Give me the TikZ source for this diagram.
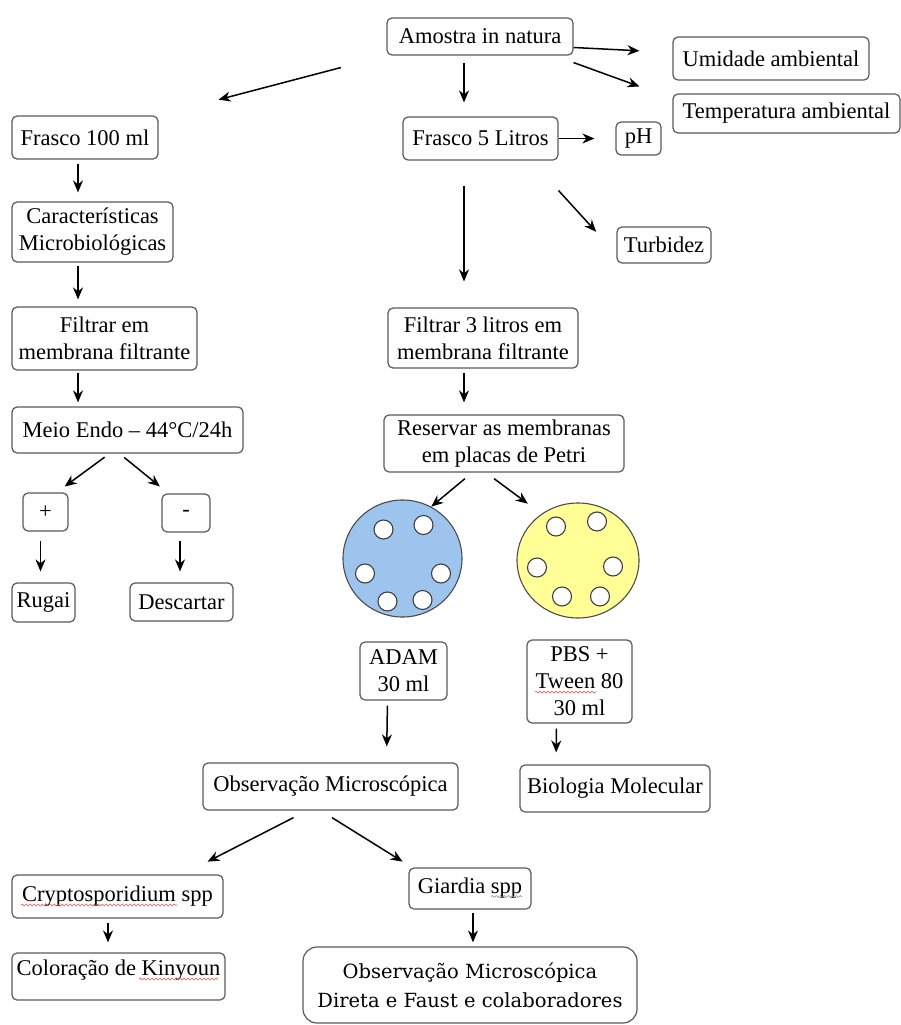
\documentclass[tikz,border=0pt]{standalone}
\usepackage{fontspec}
\setmainfont{Liberation Serif}
\newfontfamily\wideserif{DejaVu Serif}
\usetikzlibrary{arrows.meta,shapes.geometric,decorations.pathmorphing}

\definecolor{placaazul}{RGB}{157,196,236}
\definecolor{placaamarela}{RGB}{255,255,150}
\definecolor{borda}{RGB}{90,90,90}

\tikzset{
  caixa/.style={draw=borda,line width=1.2pt,rounded corners=5pt,align=center,inner sep=0pt,fill=white,font=\fontsize{22.5}{27}\selectfont},
  seta/.style={line width=1.5pt,-{Stealth[length=12pt,width=10pt]}},
  placa/.style={ellipse,draw=black!70,line width=1.1pt,inner sep=0pt},
  furo/.style={draw=black!75,line width=1.1pt,fill=white},
  onda/.style={draw=red!70,line width=0.6pt,decorate,decoration={snake,amplitude=0.9pt,segment length=4pt}},
}

\begin{document}
\begin{tikzpicture}[x=1pt,y=-1pt]
  \useasboundingbox (0,0) rectangle (901,1025);

  \node[caixa,minimum width=186pt,minimum height=37pt] (amostra) at (480,36.5) {Amostra in natura};
  \node[caixa,minimum width=196pt,minimum height=43pt] (umidade) at (771,58.5) {Umidade ambiental};
  \node[caixa,minimum width=227pt,minimum height=39pt] (temp) at (786.5,113.5) {Temperatura ambiental};
  \node[caixa,minimum width=155pt,minimum height=43pt] (f5) at (480.5,138.5) {Frasco 5 Litros};
  \node[caixa,minimum width=45pt,minimum height=33pt] (ph) at (638.5,138.5) {pH};
  \node[caixa,minimum width=94pt,minimum height=36pt] (turb) at (664,245) {Turbidez};

  \node[caixa,minimum width=146pt,minimum height=43pt] (f100) at (85,137.5) {Frasco 100 ml};
  \node[caixa,minimum width=161pt,minimum height=60pt] (carac) at (92.5,232) {Características\\Microbiológicas};
  \node[caixa,minimum width=185pt,minimum height=63pt] (filtrar) at (104.5,338.5) {Filtrar em\\membrana filtrante};
  \node[caixa,minimum width=231pt,minimum height=46pt] (meio) at (127.5,430) {Meio Endo -- 44°C/24h};
  \node[caixa,minimum width=45pt,minimum height=38pt] (pos) at (45.5,512) {+};
  \node[caixa,minimum width=48pt,minimum height=38pt] (neg) at (186,513) {-};
  \node[caixa,minimum width=63pt,minimum height=39pt] (rugai) at (43.5,602.5) {Rugai};
  \node[caixa,minimum width=103pt,minimum height=38pt] (descartar) at (181.5,602) {Descartar};

  \node[caixa,minimum width=190pt,minimum height=60pt] (filtrar3) at (483,338) {Filtrar 3 litros em\\membrana filtrante};
  \node[caixa,minimum width=240pt,minimum height=57pt] (reservar) at (504,443.5) {Reservar as membranas\\em placas de Petri};
  \node[placa,fill=placaazul,minimum width=119pt,minimum height=117pt] (adamplaca) at (402.5,558.5) {};
  \node[placa,fill=placaamarela,minimum width=122pt,minimum height=115pt] (pbsplaca) at (578,560.5) {};
  \begin{scope}[shift={(adamplaca.center)}]
    \foreach \fx/\fy in {-19/-29,21/-33.5,-37.5/15,38.5/15,-15/43,20/41.5}
      \draw[furo] (\fx,\fy) circle[radius=9.5pt];
  \end{scope}
  \begin{scope}[shift={(pbsplaca.center)}]
    \foreach \fx/\fy in {-22/-34,19/-39,-41/7,35/6,-16/36,22/36}
      \draw[furo] (\fx,\fy) circle[radius=9.5pt];
  \end{scope}
  \node[caixa,minimum width=87pt,minimum height=58pt] (adam) at (403.5,671) {ADAM\\30 ml};
  \node[caixa,minimum width=105pt,minimum height=83pt] (pbs) at (579.5,681.5) {PBS +\\Tween 80\\30 ml};
  \node[caixa,minimum width=255pt,minimum height=47pt] (obs) at (330.5,786.5) {Observação Microscópica};
  \node[caixa,minimum width=190pt,minimum height=47pt] (bio) at (615,788.5) {Biologia Molecular};
  \node[caixa,minimum width=211pt,minimum height=43pt] (crypto) at (117.5,896.5) {Cryptosporidium spp};
  \node[caixa,minimum width=122pt,minimum height=41pt] (giardia) at (470,888.5) {Giardia spp};
  \node[caixa,minimum width=213pt,minimum height=47pt,text depth=17pt] (kinyoun) at (118.5,976.5) {Coloração de Kinyoun};
  \node[caixa,rounded corners=14pt,minimum width=334pt,minimum height=76pt,font=\wideserif\fontsize{19.5}{29}\selectfont] (direta) at (470,985) {Observação Microscópica\\Direta e Faust e colaboradores};

  \draw[onda] ([xshift=-96.5pt,yshift=-8.5pt]crypto.center) -- ++(156,0);
  \draw[onda] ([xshift=20.5pt,yshift=-2.5pt]kinyoun.center) -- ++(79,0);
  \draw[onda] ([xshift=-44.7pt,yshift=-10.5pt]pbs.center) -- ++(61,0);
  \draw[onda,draw=black!45] ([xshift=21pt,yshift=-8pt]giardia.center) -- ++(31,0);

  \coordinate (colesq) at (78,0);
  \coordinate (coldir) at (464,0);

  \draw[seta,shorten <=47pt,shorten >=62pt] (amostra.south west) -- (f100.north east);
  \draw[seta,shorten >=33pt] ([yshift=-11pt]amostra.east) -- ([yshift=6pt]umidade.west);
  \draw[seta,shorten >=35pt] ([yshift=-7pt]amostra.south east) -- ([yshift=-5pt]temp.north west);
  \draw[seta,shorten <=7pt,shorten >=14pt] (amostra.south -| coldir) -- (f5.north -| coldir);
  \draw[seta,shorten >=21pt] (f5) -- (ph);
  \draw[seta,shorten >=30pt] ([yshift=-30pt]f5.south east) -- ([yshift=-9pt]turb.west);
  \draw[seta,shorten <=25pt,shorten >=26pt] (f5.south -| coldir) -- (filtrar3.north -| coldir);

  \draw[seta,shorten <=4pt,shorten >=9pt] (f100.south -| colesq) -- (carac.north -| colesq);
  \draw[seta,shorten <=3pt,shorten >=7pt] (carac.south -| colesq) -- (filtrar.north -| colesq);
  \draw[seta,shorten <=2pt,shorten >=4pt] (filtrar.south -| colesq) -- (meio.north -| colesq);
  \draw[seta,shorten <=6pt,shorten >=10pt] ([xshift=-18pt]meio.south) -- ([xshift=-12pt]pos.north east);
  \draw[seta,shorten <=6pt,shorten >=11pt] ([xshift=-8pt]meio.south) -- ([xshift=7pt]neg.north west);
  \draw[seta,shorten <=9pt,shorten >=11pt] ([xshift=-5pt]pos.south) -- ([xshift=-3pt]rugai.north);
  \draw[seta,shorten <=8pt,shorten >=11pt] ([xshift=-6pt]neg.south) -- ([xshift=-1.5pt]descartar.north);

  \draw[seta,shorten <=4pt,shorten >=12pt] (filtrar3.south -| coldir) -- (reservar.north -| coldir);
  \draw[seta] ([xshift=-39pt,yshift=-6pt]reservar.south) -- (adamplaca.61);
  \draw[seta,shorten >=17pt] ([xshift=-10pt,yshift=-6pt]reservar.south) -- (pbsplaca.128);
  \draw[seta,shorten <=5pt,shorten >=16pt] ([xshift=-16pt]adam.south) -- ([xshift=56pt]obs.north);
  \draw[seta,shorten <=5pt,shorten >=12pt] ([xshift=-23pt]pbs.south) -- ([xshift=-59pt]bio.north);
  \draw[seta,shorten >=28pt] ([xshift=-37pt,yshift=-7pt]obs.south) -- ([xshift=-41pt]crypto.north east);
  \draw[seta,shorten >=11pt] ([xshift=1.5pt,yshift=-7pt]obs.south) -- ([xshift=3.5pt]giardia.north west);
  \draw[seta,shorten <=4pt,shorten >=10pt] ([xshift=-9.5pt]crypto.south) -- ([xshift=-10.5pt]kinyoun.north);
  \draw[seta,shorten <=3pt,shorten >=4pt] ([xshift=3pt]giardia.south) -- ([xshift=3pt]direta.north);
\end{tikzpicture}
\end{document}
